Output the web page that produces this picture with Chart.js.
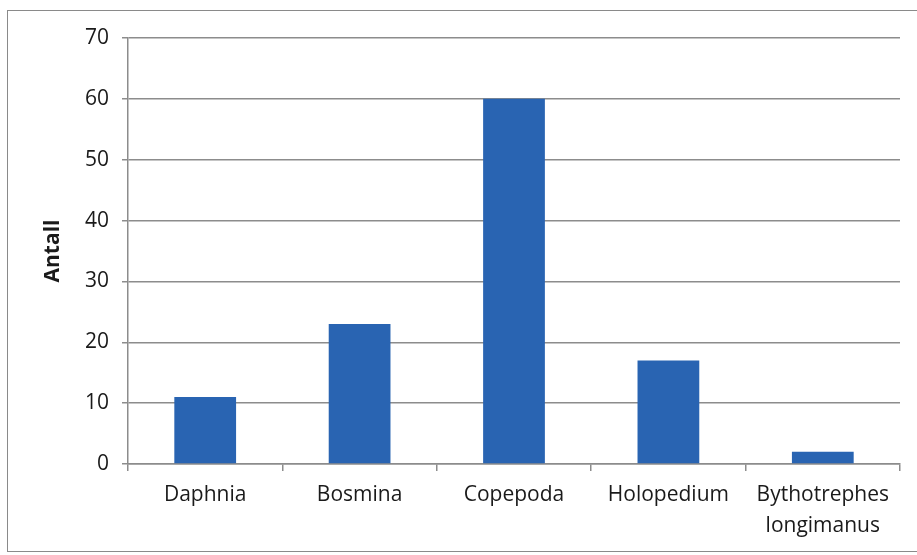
<!DOCTYPE html>
<html>
<head>
<meta charset="utf-8">
<script src="https://cdn.jsdelivr.net/npm/chart.js@4.4.1/dist/chart.umd.min.js"></script>
<style>
  html, body { margin: 0; padding: 0; background: #fff; }
  #wrap { position: relative; width: 917px; height: 555px; overflow: hidden; }
  #frame {
    position: absolute; left: 7px; top: 10px; width: 930px; height: 542px;
    border: 1px solid #8a8a8a; box-sizing: border-box; pointer-events: none;
  }
  canvas { position: absolute; left: 0; top: 0; }
</style>
</head>
<body>
<div id="wrap">
  <canvas id="chart" width="917" height="555"></canvas>
  <div id="frame"></div>
</div>
<script>
// Data
const categories = ["Daphnia", "Bosmina", "Copepoda", "Holopedium", ["Bythotrephes", "longimanus"]];
const counts = [11, 23, 60, 17, 2];
const yTicks = [0, 10, 20, 30, 40, 50, 60, 70];

const FONT = "'Open Sans', 'DejaVu Sans', sans-serif";
const GRID = "#8c8c8c";

const ctx = document.getElementById("chart").getContext("2d");

new Chart(ctx, {
  type: "bar",
  data: {
    labels: categories,
    datasets: [
      {
        label: "Antall",
        data: counts,
        backgroundColor: "#2964b2",
        borderWidth: 0,
        categoryPercentage: 1.0,
        barPercentage: 0.4,
      },
    ],
  },
  options: {
    responsive: false,
    animation: false,
    layout: {
      padding: { top: 38, right: 17, bottom: 0, left: 0 },
    },
    scales: {
      y: {
        min: 0,
        max: 70,
        afterBuildTicks: (axis) => {
          axis.ticks = yTicks.map((v) => ({ value: v }));
        },
        afterFit: (axis) => {
          axis.width = 128;
        },
        title: {
          display: true,
          text: "Antall",
          color: "#1a1a1a",
          font: { family: FONT, size: 21, weight: "bold" },
          padding: { top: 40, bottom: 0 },
        },
        ticks: {
          color: "#1a1a1a",
          padding: 13,
          font: { family: FONT, size: 21 },
        },
        grid: {
          color: GRID,
          lineWidth: 1.5,
          tickLength: 6,
        },
        border: { display: true, color: GRID, width: 1.5 },
      },
      x: {
        offset: true,
        afterFit: (axis) => {
          axis.height = 91;
        },
        ticks: {
          color: "#1a1a1a",
          padding: 9,
          maxRotation: 0,
          autoSkip: false,
          font: { family: FONT, size: 21, lineHeight: 1.45 },
        },
        grid: {
          offset: true,
          drawOnChartArea: false,
          drawTicks: true,
          tickLength: 7,
          color: GRID,
          lineWidth: 1.5,
        },
        border: { display: true, color: GRID, width: 1.5 },
      },
    },
    plugins: {
      legend: { display: false },
      title: { display: false },
      tooltip: { enabled: false },
    },
  },
});
</script>
</body>
</html>
